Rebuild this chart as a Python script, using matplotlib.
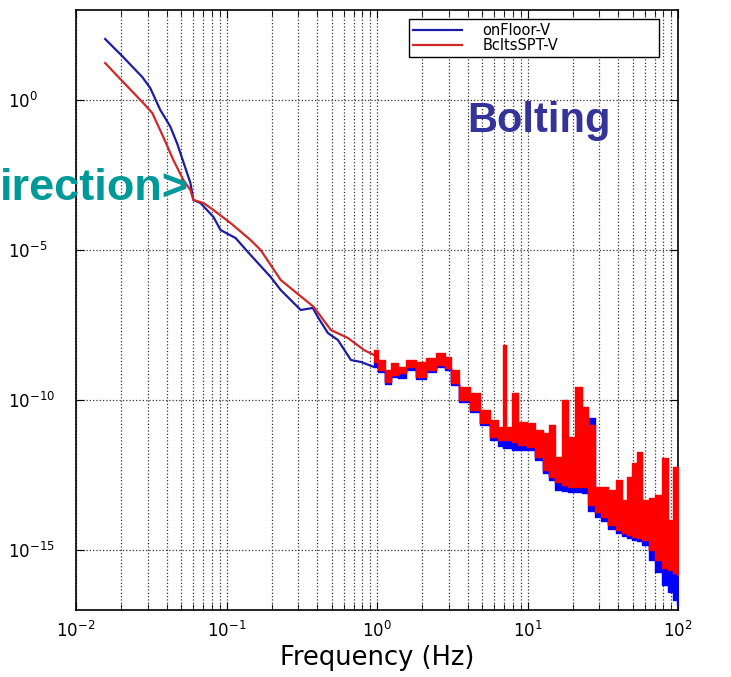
import matplotlib
matplotlib.use("Agg")
from matplotlib import pyplot as plt
from matplotlib.ticker import LogLocator, NullLocator
import numpy as np

# low-frequency part (smooth curves)
blue_f = [0.01561, 0.02057, 0.02754, 0.03113, 0.03631, 0.04233, 0.04713, 0.05168, 0.05754,
          0.06026, 0.06710, 0.08190, 0.09120, 0.1148, 0.1445, 0.1965, 0.2291, 0.3113, 0.3744,
          0.4043, 0.4714, 0.5495, 0.6710, 0.7822, 0.9550]
blue_v = [108, 27.1, 5.85, 2.51, 0.464, 0.13, 0.034, 8.6e-3, 1.71e-3,
          4.64e-4, 3.69e-4, 1.26e-4, 4.64e-5, 2.51e-5, 6.81e-6, 1.26e-6, 4.64e-7, 1.0e-7, 1.17e-7,
          5.84e-8, 1.71e-8, 1.0e-8, 2.15e-9, 1.85e-9, 1.26e-9]

red_f = [0.01561, 0.02057, 0.02797, 0.03211, 0.03802, 0.04433, 0.05168, 0.05754, 0.06026,
         0.07027, 0.08190, 0.1063, 0.1445, 0.1686, 0.2291, 0.3802, 0.4936, 0.6408, 0.8190, 0.9550]
red_v = [17.1, 3.98, 0.794, 0.369, 0.0584, 0.01, 2.15e-3, 1e-3, 4.64e-4,
         3.69e-4, 2.15e-4, 7.94e-5, 2.15e-5, 1e-5, 1e-6, 1.26e-7, 2.15e-8, 1.17e-8, 4.64e-9, 3.16e-9]

# high-frequency part (noisy band: upper / lower envelope)
noise_f = [0.9550, 1.063, 1.184, 1.298, 1.445, 1.686, 1.965, 2.291, 2.672, 2.975, 3.262, 3.802,
           4.433, 5.168, 6.026, 6.710, 7.027, 7.470, 8.190, 9.120, 10.63, 11.84, 13.38, 14.45,
           16.10, 17.65, 19.65, 21.88, 23.99, 26.72, 29.29, 32.62, 36.31, 41.06, 44.33, 47.86,
           51.68, 55.81, 60.26, 67.10, 73.56, 81.90, 88.46, 95.50, 100.0]

red_hi = [4.64e-9, 2.15e-9, 1e-9, 1.71e-9, 1.26e-9, 2.15e-9, 1.85e-9, 2.51e-9, 3.69e-9, 2.71e-9,
          1e-9, 2.71e-10, 1.71e-10, 4.64e-11, 2.15e-11, 1.26e-11, 6.81e-9, 1.26e-11, 1.71e-10,
          1.85e-11, 1.71e-11, 1e-11, 7.94e-12, 1.47e-11, 1.26e-12, 1e-10, 5.84e-12, 2.71e-10,
          5.84e-11, 1.47e-11, 1.26e-13, 1.26e-13, 1e-13, 2.15e-13, 4.64e-14, 2.71e-13, 7.94e-13,
          1.85e-12, 4.64e-14, 5.41e-14, 6.81e-14, 1.17e-12, 1e-14, 5.84e-13, 5.84e-13]
red_lo = [1.85e-9, 1e-9, 3.98e-10, 6.81e-10, 7.94e-10, 1.26e-9, 5.84e-10, 1e-9, 1.47e-9, 1.17e-9,
          3.69e-10, 1e-10, 4.64e-11, 1.71e-11, 5.84e-12, 4.64e-12, 4.64e-12, 4.64e-12, 3.98e-12,
          3.16e-12, 2.71e-12, 1.26e-12, 4.64e-13, 2.71e-13, 1.85e-13, 1.47e-13, 1.26e-13, 1.26e-13,
          1.26e-13, 3.16e-14, 1.85e-14, 1.26e-14, 6.81e-15, 4.64e-15, 3.69e-15, 3.16e-15, 2.71e-15,
          2.51e-15, 2.15e-15, 1e-15, 4.64e-16, 2.51e-16, 2.15e-16, 1.71e-16, 1.47e-16]

blue_hi = [1.85e-9, 1e-9, 3.98e-10, 6.81e-10, 7.94e-10, 1.26e-9, 5.84e-10, 1e-9, 1.47e-9, 1.17e-9,
           3.69e-10, 1e-10, 4.64e-11, 1.71e-11, 5.84e-12, 4.64e-12, 4.64e-12, 4.64e-12, 3.98e-12,
           3.16e-12, 2.71e-12, 1.26e-12, 4.64e-13, 2.71e-13, 1.85e-13, 1.47e-13, 1.26e-13, 1.26e-13,
           1.26e-13, 2.51e-11, 1.85e-14, 1.26e-14, 6.81e-15, 4.64e-15, 3.69e-15, 3.16e-15, 2.71e-15,
           2.51e-15, 2.15e-15, 1e-15, 4.64e-16, 2.51e-16, 2.15e-16, 1.71e-16, 1.47e-16]
blue_lo = [1.26e-9, 8.58e-10, 3.41e-10, 5.84e-10, 5.41e-10, 1e-9, 5.01e-10, 8.58e-10, 1.26e-9, 1e-9,
           3.16e-10, 8.58e-11, 3.98e-11, 1.47e-11, 4.64e-12, 2.93e-12, 2.51e-12, 2.51e-12, 2.15e-12,
           2.15e-12, 2.15e-12, 1e-12, 3.69e-13, 2.15e-13, 1e-13, 9.28e-14, 8.58e-14, 8.58e-14,
           7.94e-14, 2.0e-14, 1.26e-14, 9.28e-15, 5.01e-15, 3.69e-15, 2.93e-15, 2.51e-15, 2.15e-15,
           2.0e-15, 1.47e-15, 4.64e-16, 1.85e-16, 6.81e-17, 3.98e-17, 2.15e-17, 1.47e-17]

labels = ["onFloor-V", "BcltsSPT-V"]

fig = plt.figure(figsize=(7.31, 6.77), dpi=100)
ax = fig.add_axes([0.104, 0.099, 0.8235, 0.8862])

blue_line = "#1c1ca6"
red_line = "#d02828"

ax.plot(blue_f, blue_v, color=blue_line, lw=1.6, label=labels[0], zorder=3)
ax.fill_between(noise_f, blue_lo, blue_hi, step="mid", color="#0000ff",
                edgecolor="#0000ff", lw=1.0, zorder=3)
ax.plot(red_f, red_v, color=red_line, lw=1.6, label=labels[1], zorder=4)
ax.fill_between(noise_f, red_lo, red_hi, step="mid", color="#ff0000",
                edgecolor="#ff0000", lw=1.0, zorder=4)

ax.set_xscale("log")
ax.set_yscale("log")
ax.set_xlim(1e-2, 1e2)
ax.set_ylim(1e-17, 1e3)
ax.set_yticks([1e-15, 1e-10, 1e-5, 1e0])
ax.yaxis.set_minor_locator(NullLocator())
ax.xaxis.set_minor_locator(LogLocator(base=10, subs=np.arange(2, 10)))

ax.grid(True, which="major", axis="both", ls=":", lw=0.9, color="#333333")
ax.grid(True, which="minor", axis="x", ls=":", lw=0.9, color="#333333")

ax.tick_params(which="both", direction="in", top=True, right=True, labelsize=12)
ax.tick_params(which="major", length=6)
ax.tick_params(which="minor", length=4)
ax.tick_params(axis="x", pad=8)
ax.tick_params(axis="y", pad=49)
for lbl in ax.get_yticklabels():
    lbl.set_horizontalalignment("left")
for sp in ax.spines.values():
    sp.set_linewidth(1.2)

ax.set_xlabel("Frequency (Hz)", fontsize=18.5, labelpad=3)

leg = ax.legend(loc="upper left", bbox_to_anchor=(0.553, 0.5, 0.415, 0.485), mode="expand",
                borderaxespad=0, fontsize=10.5, handlelength=3.4, handletextpad=1.4,
                labelspacing=0.05, borderpad=0.25, fancybox=False, framealpha=1)
leg.get_frame().set_edgecolor("black")
leg.get_frame().set_linewidth(1.0)

fig.text(467 / 731, 1 - 132 / 677, "Bolting", color="#333399", fontsize=30,
         fontweight="bold", family="Liberation Sans", va="baseline", ha="left")
fig.text(0.0, 1 - 200 / 677, "irection>", color="#009999", fontsize=32.5,
         fontweight="bold", family="Liberation Sans", va="baseline", ha="left")

fig.savefig("out.png", dpi=100)
